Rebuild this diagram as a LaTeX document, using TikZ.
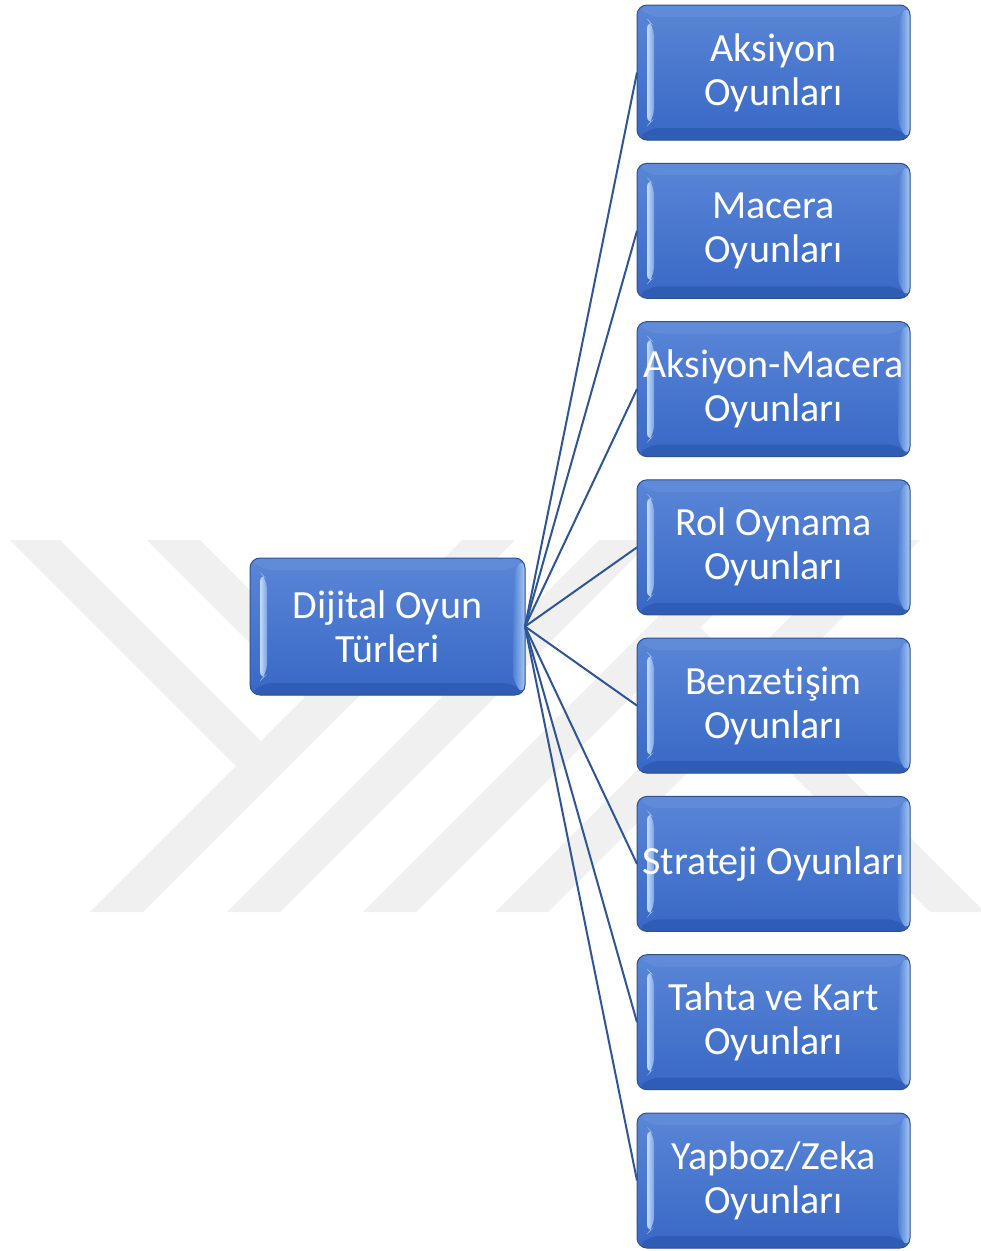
\documentclass[tikz,border=0pt]{standalone}
\usepackage{fontspec}
\setmainfont{Carlito}[Ligatures=NoCommon]
\usetikzlibrary{calc}
\definecolor{wm}{HTML}{F0F0F0}
\definecolor{boxtop}{HTML}{5A86D6}
\definecolor{boxbot}{HTML}{3868C6}
\definecolor{boxline}{HTML}{2F528F}
\definecolor{conncol}{HTML}{2F5597}
\definecolor{bevtop}{HTML}{5F8BD9}
\definecolor{bevbot}{HTML}{2F5DB5}
\definecolor{bevrin}{HTML}{5180D3}
\definecolor{bevrout}{HTML}{A4C7F6}
\definecolor{bevlin}{HTML}{78A2E8}
\definecolor{bevlout}{HTML}{C4DCFA}
\tikzset{
  bevel/.style={path picture={
    \fill[bevtop] let \p1=(path picture bounding box.north west), \p2=(path picture bounding box.south east) in
      (\x1,\y1) -- (\x2,\y1) -- (\x2-12pt,\y1-12pt) -- (\x1+12pt,\y1-12pt) -- cycle;
    \fill[bevbot] let \p1=(path picture bounding box.north west), \p2=(path picture bounding box.south east) in
      (\x1,\y2) -- (\x2,\y2) -- (\x2-12pt,\y2+12pt) -- (\x1+12pt,\y2+12pt) -- cycle;
    \shade[left color=bevrin, right color=bevrout] let \p1=(path picture bounding box.north west), \p2=(path picture bounding box.south east) in
      (\x2,\y1) -- (\x2,\y2) -- (\x2-12pt,\y2+12pt) -- (\x2-12pt,\y1-12pt) -- cycle;
    \shade[left color=bevlout, right color=bevlin] let \p1=(path picture bounding box.north west), \p2=(path picture bounding box.south east) in
      (\x1+10pt,\y1-14pt) -- (\x1+17pt,\y1-21pt) -- (\x1+17pt,\y2+21pt) -- (\x1+10pt,\y2+14pt) -- cycle;
  }},
  gbox/.style={rounded corners=10pt, minimum width=273pt, minimum height=135pt,
    inner sep=0pt, outer sep=0pt, top color=boxtop, bottom color=boxbot,
    draw=boxline, line width=1pt, text=white, align=center,
    font=\fontsize{40}{44}\selectfont, bevel},
  conn/.style={draw=conncol, line width=2pt},
  wmband/.style={fill=wm}
}
\begin{document}
\begin{tikzpicture}[x=1pt,y=-1pt]
\useasboundingbox (0,0) rectangle (981,1251);
\fill[white] (0,0) rectangle (981,1251);
% watermark
\begin{scope}
\clip (0,540) rectangle (981,912);
\fill[wmband] (90,912) -- (143,912) -- (515,540) -- (462,540) -- cycle;
\fill[wmband] (227,912) -- (280,912) -- (652,540) -- (599,540) -- cycle;
\fill[wmband] (363,912) -- (416,912) -- (788,540) -- (735,540) -- cycle;
\fill[wmband] (495,912) -- (548,912) -- (920,540) -- (867,540) -- cycle;
\fill[wmband] (10,540) -- (60,540) -- (275,755) -- (250,780) -- cycle;
\fill[wmband] (147,540) -- (200,540) -- (345,685) -- (318.5,711.5) -- cycle;
\fill[wmband] (659.5,641.5) -- (687,614) -- (985,912) -- (930,912) -- cycle;
\end{scope}
% nodes
\node[gbox, minimum width=275pt, minimum height=137pt] (root) at (387.5,626.5) {Dijital Oyun\\Türleri};
\node[gbox] (a1) at (773.5,72.5) {Aksiyon\\Oyunları};
\node[gbox] (a2) at (773.5,230.8) {Macera\\Oyunları};
\node[gbox] (a3) at (773.5,389.1) {Aksiyon-Macera\\Oyunları};
\node[gbox] (a4) at (773.5,547.3) {Rol Oynama\\Oyunları};
\node[gbox] (a5) at (773.5,705.6) {Benzetişim\\Oyunları};
\node[gbox] (a6) at (773.5,863.9) {Strateji Oyunları};
\node[gbox] (a7) at (773.5,1022.2) {Tahta ve Kart\\Oyunları};
\node[gbox] (a8) at (773.5,1180.5) {Yapboz/Zeka\\Oyunları};
% connectors
\foreach \n in {a1,a2,a3,a4,a5,a6,a7,a8}
  \draw[conn] (root.east) -- (\n.west);
\end{tikzpicture}
\end{document}
